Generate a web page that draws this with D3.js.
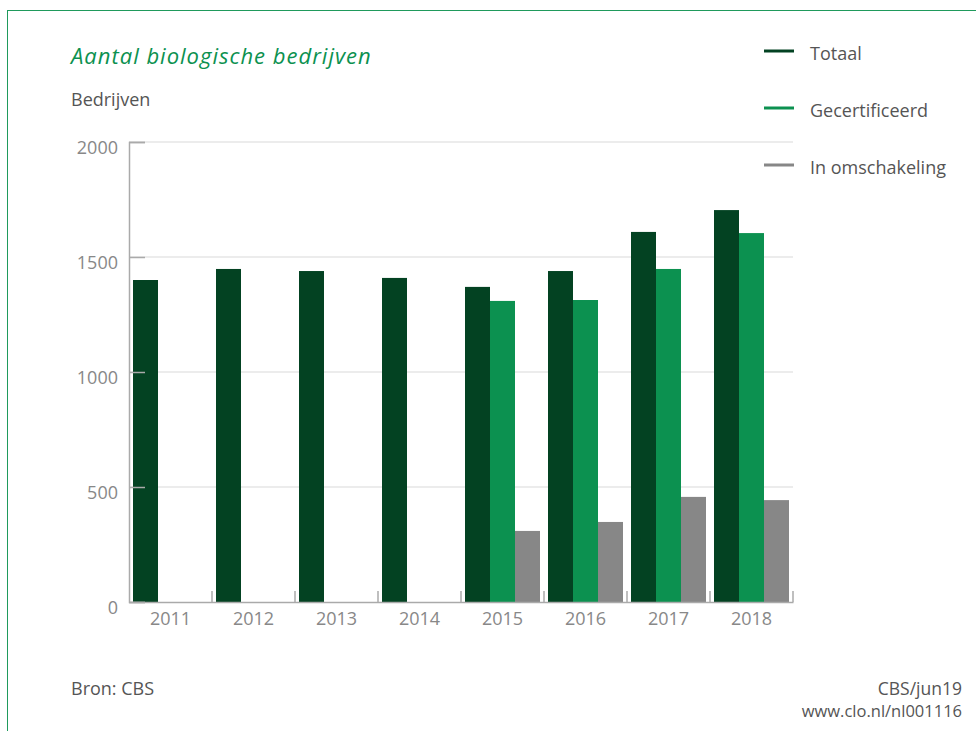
<!DOCTYPE html>
<html><head><meta charset="utf-8">
<script src="https://cdn.jsdelivr.net/npm/d3@7"></script>
<style>body{margin:0;background:#fff;}svg{display:block;font-family:"Open Sans",sans-serif;}</style>
</head><body><svg id="c" width="976" height="731"></svg>
<script>
const years = ["2011","2012","2013","2014","2015","2016","2017","2018"];
const seriesNames = ["Totaal","Gecertificeerd","In omschakeling"];
const totaal = [1400,1448,1439,1409,1370,1439,1609,1704];
const gecertificeerd = [null,null,null,null,1309,1313,1448,1604];
const omschakeling = [null,null,null,null,309,348,457,443];
const yTicks = [0,500,1000,1500,2000];
const colors = ["#034222","#0c9150","#878787"];

const svg = d3.select("#c");
svg.append("rect").attr("x",7.5).attr("y",10.5).attr("width",1000).attr("height",800)
  .attr("fill","none").attr("stroke","#1f9a5c").attr("stroke-width",1);

const pL=129, pR=793, pT=142, pB=602;
const x = d3.scaleBand().domain(years).range([pL,pR]).paddingInner(0).paddingOuter(0);
const inner = d3.scaleBand().domain(seriesNames).range([4, x.bandwidth()-4]);
const y = d3.scaleLinear().domain([0,2000]).range([pB,pT]);

// gridlines
svg.append("g").selectAll("line").data(yTicks.filter(d=>d>0)).join("line")
  .attr("x1",pL).attr("x2",pR).attr("y1",d=>y(d)).attr("y2",d=>y(d))
  .attr("stroke","#e6e6e6").attr("stroke-width",1.5);

// bars
const data = [totaal,gecertificeerd,omschakeling];
data.forEach((arr,si)=>{
  svg.append("g").selectAll("rect").data(years.map((yr,i)=>({yr,v:arr[i]})).filter(d=>d.v!=null)).join("rect")
    .attr("x",d=>x(d.yr)+inner(seriesNames[si]))
    .attr("width",inner.bandwidth())
    .attr("y",d=>y(d.v)).attr("height",d=>y(0)-y(d.v))
    .attr("fill",colors[si]);
});

// y axis
const ya = svg.append("g").attr("transform",`translate(${pL},0)`)
  .call(d3.axisRight(y).tickValues(yTicks).tickSize(16).tickFormat(""));
ya.select(".domain").attr("stroke","#aaaaaa").attr("stroke-width",1.5);
ya.selectAll(".tick line").attr("stroke","#aaaaaa").attr("stroke-width",1.5);
svg.append("g").selectAll("text").data(yTicks).join("text")
  .attr("x",118).attr("y",d=>y(d)+12).attr("text-anchor","end")
  .attr("font-size",18).attr("fill","#888888").text(d=>d);

// x axis
const xa = svg.append("g").attr("transform",`translate(0,${pB})`)
  .call(d3.axisBottom(x).tickSize(0).tickFormat(d=>d));
xa.select(".domain").attr("stroke","#aaaaaa").attr("stroke-width",1.5);
xa.selectAll(".tick text").attr("font-size",18).attr("fill","#888888").attr("dy",0).attr("y",23).attr("font-family","'Open Sans',sans-serif");
svg.append("g").selectAll("line").data(years.slice(1).concat(["end"])).join("line")
  .attr("x1",d=>d==="end"?pR:x(d)).attr("x2",d=>d==="end"?pR:x(d))
  .attr("y1",pB).attr("y2",pB-11).attr("stroke","#aaaaaa").attr("stroke-width",1.5);

// title
svg.append("text").attr("x",71).attr("y",64).attr("font-size",22).attr("font-style","italic")
  .attr("letter-spacing",1).attr("fill","#0c9150").text("Aantal biologische bedrijven");
svg.append("text").attr("x",71).attr("y",106).attr("font-size",18).attr("fill","#555").text("Bedrijven");

// legend
const legY = [51,108,165];
seriesNames.forEach((s,i)=>{
  svg.append("line").attr("x1",764).attr("x2",794).attr("y1",legY[i]).attr("y2",legY[i])
    .attr("stroke",colors[i]).attr("stroke-width",3);
  svg.append("text").attr("x",810).attr("y",legY[i]+9).attr("font-size",18).attr("fill","#555").text(s);
});

// footer
svg.append("text").attr("x",71).attr("y",695).attr("font-size",18).attr("fill","#555").text("Bron: CBS");
svg.append("text").attr("x",962).attr("y",695).attr("text-anchor","end").attr("font-size",17.5).attr("fill","#555").text("CBS/jun19");
svg.append("text").attr("x",962).attr("y",717).attr("text-anchor","end").attr("font-size",16.5).attr("fill","#555").text("www.clo.nl/nl001116");
</script></body></html>
